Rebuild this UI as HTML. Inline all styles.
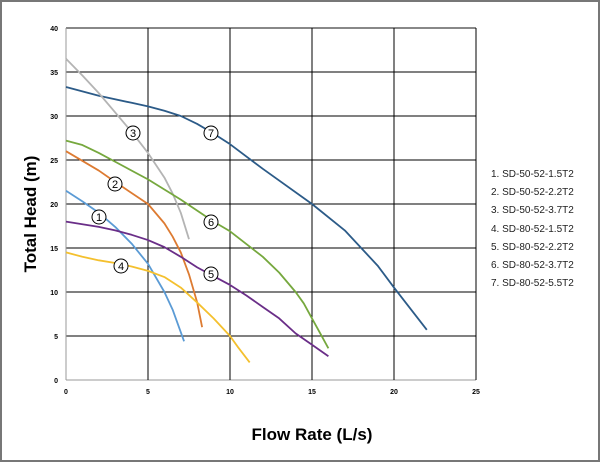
<!DOCTYPE html>
<html><head><meta charset="utf-8"><style>
body{margin:0;background:#fff}
svg{display:block;font-family:"Liberation Sans",Arial,sans-serif}
</style></head><body>
<svg width="600" height="462" viewBox="0 0 600 462" xmlns="http://www.w3.org/2000/svg">
<rect x="1" y="1" width="598" height="460" fill="#fff" stroke="#777" stroke-width="2"/>
<g stroke="#000" stroke-width="1">
<line x1="66" y1="28" x2="476" y2="28" stroke="#888" stroke-width="2"/>
<line x1="66" y1="72" x2="476" y2="72"/>
<line x1="66" y1="116" x2="476" y2="116"/>
<line x1="66" y1="160" x2="476" y2="160"/>
<line x1="66" y1="204" x2="476" y2="204"/>
<line x1="66" y1="248" x2="476" y2="248"/>
<line x1="66" y1="292" x2="476" y2="292"/>
<line x1="66" y1="336" x2="476" y2="336"/>
<line x1="66" y1="380" x2="476" y2="380" stroke="#999"/>
<line x1="66" y1="28" x2="66" y2="380" stroke="#999"/>
<line x1="148" y1="28" x2="148" y2="380"/>
<line x1="230" y1="28" x2="230" y2="380"/>
<line x1="312" y1="28" x2="312" y2="380"/>
<line x1="394" y1="28" x2="394" y2="380"/>
<line x1="476" y1="28" x2="476" y2="380"/>
</g>
<g font-size="7" font-weight="bold" text-anchor="end" fill="#000">
<text x="58" y="31">40</text><text x="58" y="75">35</text><text x="58" y="119">30</text>
<text x="58" y="163">25</text><text x="58" y="207">20</text><text x="58" y="251">15</text>
<text x="58" y="295">10</text><text x="58" y="339">5</text><text x="58" y="383">0</text>
</g>
<g font-size="7" font-weight="bold" text-anchor="middle" fill="#000">
<text x="66" y="394">0</text><text x="148" y="394">5</text><text x="230" y="394">10</text>
<text x="312" y="394">15</text><text x="394" y="394">20</text><text x="476" y="394">25</text>
</g>
<g transform="translate(66,380) scale(16.4,-8.8)" fill="none" stroke-width="1.8" stroke-linejoin="round">
<polyline vector-effect="non-scaling-stroke" stroke="#2c5b88" points="0,33.3 2,32.3 4,31.5 5,31.1 6,30.6 7,30 8,29.1 9,28 10,26.8 12,24 15,20 17,17 18,15 19,13 20,10.5 22,5.7"/>
<polyline vector-effect="non-scaling-stroke" stroke="#b4b4b4" points="0,36.5 1,34.6 2,32.6 3,30.4 4,28.2 5,25.8 6,23 6.5,21.2 7,19 7.5,16"/>
<polyline vector-effect="non-scaling-stroke" stroke="#76a83e" points="0,27.2 1,26.7 2,25.8 3,24.8 5,22.8 7,20.5 9,18 10,16.9 12,14 13,12.2 14,10 14.5,8.7 15,7 15.5,5.3 16,3.6"/>
<polyline vector-effect="non-scaling-stroke" stroke="#dd7b32" points="0,26 2,23.8 3,22.5 5,20 6,17.8 6.5,16.3 7,14.5 7.5,12 8,8.8 8.3,6"/>
<polyline vector-effect="non-scaling-stroke" stroke="#5b9bd5" points="0,21.5 1,20.3 2,19 3,17.4 4,15.5 5,13.2 6,10 6.5,8 7.2,4.4"/>
<polyline vector-effect="non-scaling-stroke" stroke="#6a2e88" points="0,18 1,17.7 2,17.4 3,17 4,16.5 5,15.9 6,15.1 7,14 8,12.8 9,11.8 10,10.8 11,9.6 12,8.3 13,7 14,5.3 15,4 16,2.7"/>
<polyline vector-effect="non-scaling-stroke" stroke="#f4c02e" points="0,14.5 1,14 2,13.6 3,13.3 4,12.9 5,12.4 6,11.7 7,10.5 8,8.8 9,7 10,5 10.5,3.7 11.2,2"/>
</g>
<g font-size="11" text-anchor="middle" fill="#000">
<g><circle cx="133" cy="133" r="7" fill="#fff" stroke="#000"/><text x="133" y="137">3</text></g>
<g><circle cx="211" cy="133" r="7" fill="#fff" stroke="#000"/><text x="211" y="137">7</text></g>
<g><circle cx="115" cy="184" r="7" fill="#fff" stroke="#000"/><text x="115" y="188">2</text></g>
<g><circle cx="211" cy="222" r="7" fill="#fff" stroke="#000"/><text x="211" y="226">6</text></g>
<g><circle cx="99" cy="217" r="7" fill="#fff" stroke="#000"/><text x="99" y="221">1</text></g>
<g><circle cx="121" cy="266" r="7" fill="#fff" stroke="#000"/><text x="121" y="270">4</text></g>
<g><circle cx="211" cy="274" r="7" fill="#fff" stroke="#000"/><text x="211" y="278">5</text></g>
</g>
<g font-size="10" fill="#222">
<text x="491" y="177">1. SD-50-52-1.5T2</text>
<text x="491" y="195">2. SD-50-52-2.2T2</text>
<text x="491" y="213">3. SD-50-52-3.7T2</text>
<text x="491" y="232">4. SD-80-52-1.5T2</text>
<text x="491" y="250">5. SD-80-52-2.2T2</text>
<text x="491" y="268">6. SD-80-52-3.7T2</text>
<text x="491" y="286">7. SD-80-52-5.5T2</text>
</g>
<text x="312" y="440" font-size="17" font-weight="bold" text-anchor="middle">Flow Rate (L/s)</text>
<text transform="translate(36,214) rotate(-90)" font-size="17" font-weight="bold" text-anchor="middle">Total Head (m)</text>
</svg>
</body></html>
